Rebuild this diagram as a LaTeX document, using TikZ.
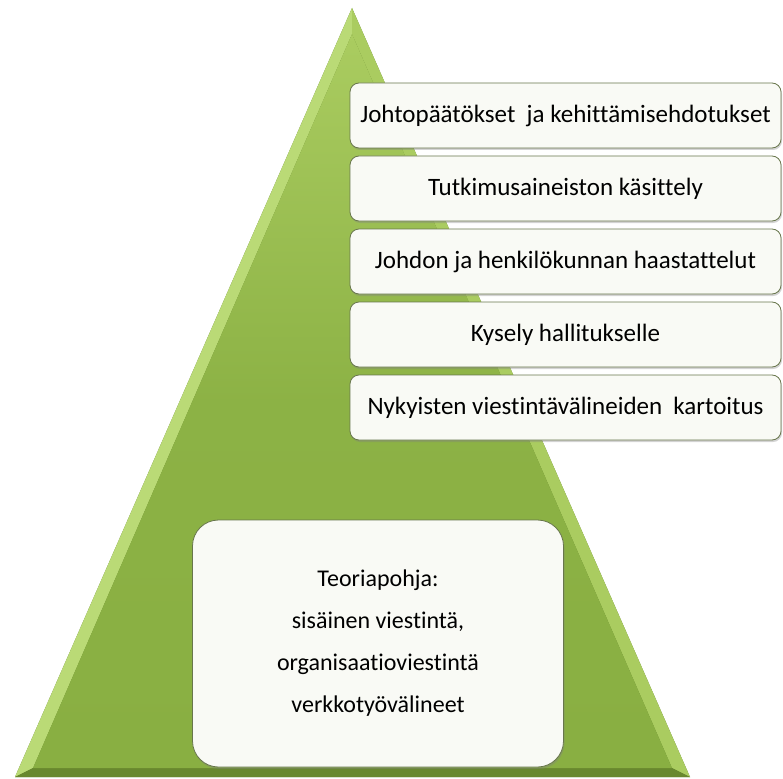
\documentclass[tikz,border=0pt]{standalone}
\usepackage{fontspec}
\newfontfamily\stepfont[Ligatures=CommonOff]{Carlito}
\usetikzlibrary{positioning,shadows}
\definecolor{pyramidGreen}{RGB}{137,175,66}
\definecolor{pyramidLight}{RGB}{170,204,96}
\definecolor{pyramidBevel}{RGB}{186,218,118}
\definecolor{pyramidDark}{RGB}{104,136,46}
\definecolor{pyramidEdge}{RGB}{92,122,40}
\definecolor{boxWhite}{RGB}{249,250,245}
\definecolor{boxLine}{RGB}{104,118,76}

\begin{document}
\begin{tikzpicture}[
  x=1pt, y=-1pt,
  node distance=7.2pt,
  stepbox/.style={draw=boxLine, line width=0.8pt, rounded corners=9pt, fill=boxWhite,
                  minimum width=431pt, minimum height=65pt, inner sep=0pt,
                  font=\stepfont\fontsize{25}{30}\selectfont,
                  drop shadow={opacity=0.35, shadow xshift=1pt, shadow yshift=-2pt}},
  basebox/.style={draw=boxLine, line width=0.8pt, rounded corners=26pt, fill=boxWhite,
                  minimum width=371pt, minimum height=247pt, inner sep=0pt, align=center,
                  font=\stepfont\fontsize{24}{42}\selectfont,
                  drop shadow={opacity=0.35, shadow xshift=1pt, shadow yshift=-2pt}}
]
\useasboundingbox (0,0) rectangle (783,778);

% pyramid with bevelled edges
\fill[pyramidEdge] (352,8) -- (690,777) -- (15,777) -- cycle;
\fill[pyramidBevel] (352,8) -- (352,34) -- (33,768) -- (15,777) -- cycle;
\fill[pyramidLight] (352,8) -- (690,777) -- (672,768) -- (352,34) -- cycle;
\fill[pyramidDark] (15,777) -- (33,768) -- (672,768) -- (690,777) -- cycle;
\shade[top color=pyramidLight, bottom color=pyramidGreen, middle color=pyramidGreen!90!pyramidLight]
  (352,34) -- (672,768) -- (33,768) -- cycle;

% research steps
\node[stepbox] (conclusions) at (565.5,115.5) {Johtopäätökset~ ja kehittämisehdotukset};
\node[stepbox, below=of conclusions] (analysis) {Tutkimusaineiston käsittely};
\node[stepbox, below=of analysis] (interviews) {Johdon ja henkilökunnan haastattelut};
\node[stepbox, below=of interviews] (survey) {Kysely hallitukselle};
\node[stepbox, below=of survey] (mapping) {Nykyisten viestintävälineiden~ kartoitus};

% theory base
\node[basebox] (theory) at (378,643.5)
  {Teoriapohja:\\sisäinen viestintä,\\organisaatioviestintä\\verkkotyövälineet};
\end{tikzpicture}
\end{document}
